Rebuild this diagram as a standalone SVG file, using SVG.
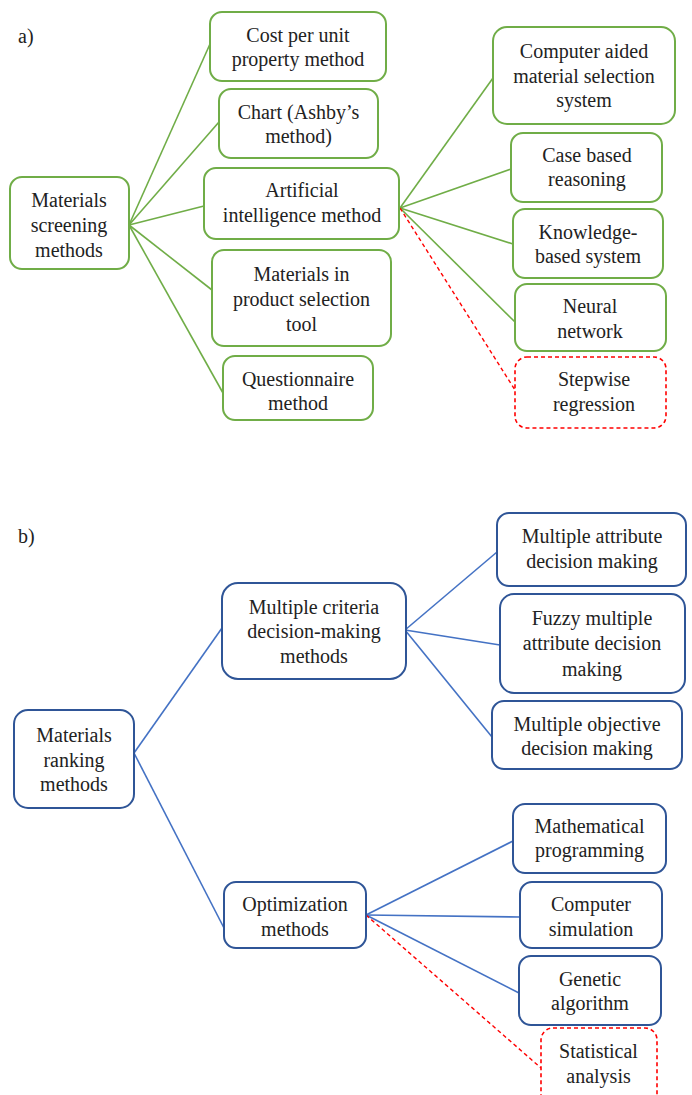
<svg xmlns="http://www.w3.org/2000/svg" width="692" height="1095" viewBox="0 0 692 1095">
<style>
text{font-family:"Liberation Serif","Times New Roman",serif;font-size:20px;fill:#222;text-anchor:middle}
.lbl{text-anchor:start}
.g{fill:#fff;stroke:#70AD47;stroke-width:2}
.b{fill:#fff;stroke:#2F5597;stroke-width:2}
.r{fill:#fff;stroke:#FF0000;stroke-width:1.6;stroke-dasharray:4 3}
.cg{stroke:#70AD47;stroke-width:1.6;fill:none}
.cb{stroke:#4472C4;stroke-width:1.6;fill:none}
.cr{stroke:#FF0000;stroke-width:1.4;stroke-dasharray:4 3;fill:none}
</style>
<rect width="692" height="1095" fill="#fff"/>
<text class="lbl" x="18" y="43">a)</text>
<text class="lbl" x="18" y="543">b)</text>
<g id="connectors">
<line class="cg" x1="129" y1="225" x2="210" y2="44"/>
<line class="cg" x1="129" y1="225" x2="219" y2="122"/>
<line class="cg" x1="129" y1="225" x2="204" y2="206"/>
<line class="cg" x1="129" y1="225" x2="212" y2="290"/>
<line class="cg" x1="129" y1="225" x2="223" y2="393"/>
<line class="cg" x1="400" y1="208" x2="493" y2="78"/>
<line class="cg" x1="400" y1="208" x2="511" y2="169"/>
<line class="cg" x1="400" y1="208" x2="513" y2="244"/>
<line class="cg" x1="400" y1="208" x2="515" y2="322"/>
<line class="cr" x1="400" y1="208" x2="515" y2="390"/>
<line class="cb" x1="134" y1="753" x2="222" y2="628"/>
<line class="cb" x1="134" y1="753" x2="224" y2="928"/>
<line class="cb" x1="405" y1="630" x2="497" y2="552"/>
<line class="cb" x1="405" y1="630" x2="500" y2="645"/>
<line class="cb" x1="405" y1="630" x2="492" y2="737"/>
<line class="cb" x1="366" y1="915" x2="513" y2="841"/>
<line class="cb" x1="366" y1="915" x2="520" y2="917"/>
<line class="cb" x1="366" y1="915" x2="519" y2="993"/>
<line class="cr" x1="366" y1="915" x2="541" y2="1068"/>
</g>
<g id="n-screening"><rect class="g" x="10" y="177" width="119" height="92" rx="12"/><text x="69" y="207">Materials</text><text x="69" y="232">screening</text><text x="69" y="257">methods</text></g>
<g id="n-cost"><rect class="g" x="210" y="12" width="176" height="69" rx="12"/><text x="298" y="42">Cost per unit</text><text x="298" y="66">property method</text></g>
<g id="n-chart"><rect class="g" x="219" y="89" width="159" height="69" rx="12"/><text x="298.5" y="119">Chart (Ashby’s</text><text x="298.5" y="143">method)</text></g>
<g id="n-ai"><rect class="g" x="204" y="168" width="195" height="71" rx="12"/><text x="302" y="197">Artificial</text><text x="302" y="222">intelligence method</text></g>
<g id="n-mips"><rect class="g" x="212" y="250" width="179" height="96" rx="12"/><text x="301.5" y="281">Materials in</text><text x="301.5" y="306">product selection</text><text x="301.5" y="331">tool</text></g>
<g id="n-quest"><rect class="g" x="223" y="356" width="150" height="64" rx="12"/><text x="298" y="386">Questionnaire</text><text x="298" y="410">method</text></g>
<g id="n-cams"><rect class="g" x="493" y="27" width="182" height="97" rx="14"/><text x="584" y="58">Computer aided</text><text x="584" y="83">material selection</text><text x="584" y="107">system</text></g>
<g id="n-cbr"><rect class="g" x="511" y="133" width="151" height="69" rx="12"/><text x="587" y="162">Case based</text><text x="587" y="186">reasoning</text></g>
<g id="n-kbs"><rect class="g" x="513" y="209" width="150" height="69" rx="12"/><text x="588" y="239">Knowledge-</text><text x="588" y="263">based system</text></g>
<g id="n-nn"><rect class="g" x="515" y="284" width="151" height="67" rx="12"/><text x="590" y="313">Neural</text><text x="590" y="338">network</text></g>
<g id="n-sw"><rect class="r" x="515" y="357" width="151" height="71" rx="12"/><text x="594" y="386">Stepwise</text><text x="594" y="411">regression</text></g>
<g id="n-ranking"><rect class="b" x="14" y="710" width="120" height="98" rx="14"/><text x="74" y="742">Materials</text><text x="74" y="767">ranking</text><text x="74" y="791">methods</text></g>
<g id="n-mcdm"><rect class="b" x="222" y="583" width="184" height="96" rx="16"/><text x="314" y="614">Multiple criteria</text><text x="314" y="638">decision-making</text><text x="314" y="663">methods</text></g>
<g id="n-madm"><rect class="b" x="497" y="513" width="189" height="73" rx="12"/><text x="592" y="543">Multiple attribute</text><text x="592" y="568">decision making</text></g>
<g id="n-fmadm"><rect class="b" x="500" y="594" width="185" height="99" rx="14"/><text x="592" y="625">Fuzzy multiple</text><text x="592" y="650">attribute decision</text><text x="592" y="676">making</text></g>
<g id="n-modm"><rect class="b" x="492" y="701" width="190" height="68" rx="12"/><text x="587" y="731">Multiple objective</text><text x="587" y="755">decision making</text></g>
<g id="n-opt"><rect class="b" x="224" y="882" width="142" height="66" rx="12"/><text x="295" y="911">Optimization</text><text x="295" y="936">methods</text></g>
<g id="n-mp"><rect class="b" x="513" y="804" width="153" height="69" rx="12"/><text x="589.5" y="833">Mathematical</text><text x="589.5" y="857">programming</text></g>
<g id="n-cs"><rect class="b" x="520" y="882" width="142" height="66" rx="12"/><text x="591" y="911">Computer</text><text x="591" y="936">simulation</text></g>
<g id="n-ga"><rect class="b" x="519" y="956" width="142" height="69" rx="12"/><text x="590" y="986">Genetic</text><text x="590" y="1010">algorithm</text></g>
<g id="n-sa"><rect class="r" x="541" y="1028" width="116" height="80" rx="12"/><text x="598.5" y="1058">Statistical</text><text x="598.5" y="1083">analysis</text></g>
</svg>
